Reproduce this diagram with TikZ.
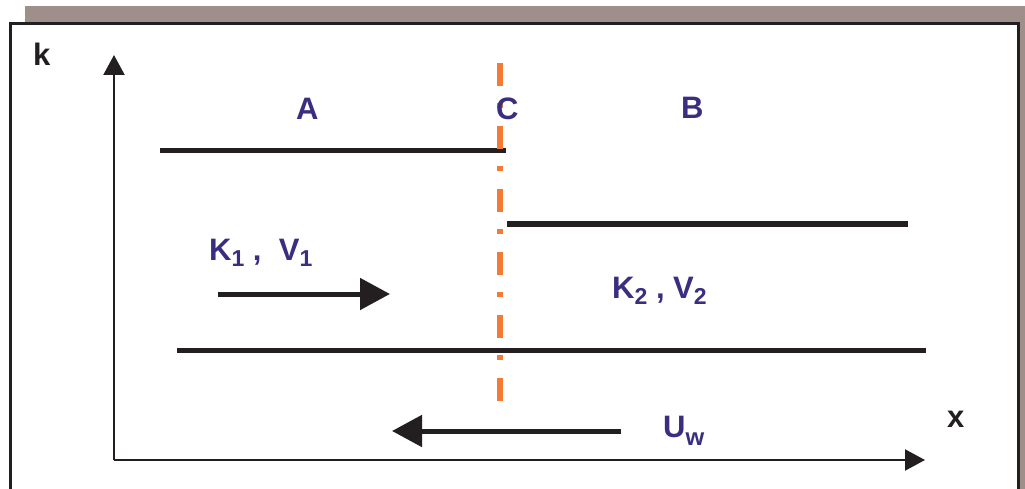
\documentclass[tikz,border=0pt]{standalone}
\usepackage{fontspec}
\setmainfont{Liberation Sans}
\usetikzlibrary{arrows.meta}
\definecolor{txtblue}{RGB}{58,46,128}
\definecolor{dashor}{RGB}{243,123,53}
\definecolor{shadowgray}{RGB}{158,143,138}
\definecolor{inkblack}{RGB}{35,31,32}
\newcommand{\sbs}[1]{\raisebox{-6.5pt}{\fontsize{23}{23}\selectfont #1}}
\tikzset{
  lbl/.style={anchor=base west, inner sep=0pt, font=\fontsize{31}{31}\selectfont\bfseries, text=txtblue},
  axlbl/.style={anchor=base west, inner sep=0pt, font=\fontsize{31}{31}\selectfont\bfseries, text=inkblack},
  wall/.style={draw=inkblack, line width=5pt},
  flow/.style={draw=inkblack, line width=5pt, -{Triangle[length=30pt, width=31pt]}},
  axis/.style={draw=inkblack, line width=2.2pt, -{Triangle[length=20pt, width=21pt]}},
  divider/.style={draw=dashor, line width=6pt, dash pattern=on 23pt off 17pt on 5pt off 18pt},
}
\begin{document}
\begin{tikzpicture}[x=1pt, y=-1pt]
\clip (0,0) rectangle (1025,489);
% shadow and frame
\fill[shadowgray] (25,6) rectangle (1045,520);
\draw[inkblack, fill=white, line width=3.2pt] (10.7,23.3) rectangle (1018.5,530);
% coordinates
\coordinate (o) at (114,460);
\coordinate (ktip) at (114,55);
\coordinate (xtip) at (925,460);
\coordinate (w1a) at (160,151);
\coordinate (w1b) at (506,151);
\coordinate (w2a) at (507,224);
\coordinate (w2b) at (908,224);
\coordinate (w3a) at (177,350);
\coordinate (w3b) at (926,350);
\coordinate (f1a) at (218,294);
\coordinate (f1b) at (390,294);
\coordinate (uwa) at (621,431);
\coordinate (uwb) at (392,431);
\coordinate (da) at (500,63);
\coordinate (db) at (500,402);
% axes
\draw[axis] (o) -- (ktip);
\draw[axis] (o) -- (xtip);
% walls
\draw[wall] (w1a) -- (w1b);
\draw[wall] (w2a) -- (w2b);
\draw[wall] (w3a) -- (w3b);
% divider
\draw[divider] (da) -- (db);
% flows
\draw[flow] (f1a) -- (f1b);
\draw[flow] (uwa) -- (uwb);
% labels
\node[axlbl] (k) at (33,66) {k};
\node[axlbl] (x) at (947,427) {x};
\node[lbl] (A) at (296,120) {A};
\node[lbl] (C) at (496,120) {C};
\node[lbl] (B) at (681,119) {B};
\node[lbl] (kv1) at (209,260) {K\sbs{1} ,\ \ V\sbs{1}};
\node[lbl] (kv2) at (612,298) {K\sbs{2} , V\sbs{2}};
\node[lbl] (uw) at (663,437) {U\raisebox{-8pt}{\fontsize{24}{24}\selectfont w}};
\end{tikzpicture}
\end{document}
